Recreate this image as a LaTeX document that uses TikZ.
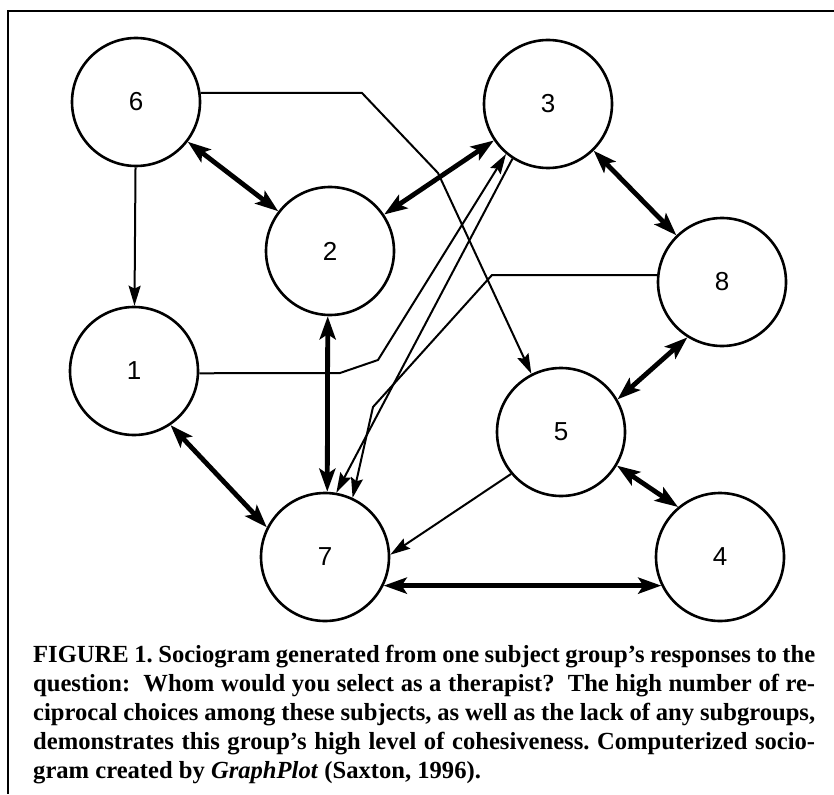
\documentclass[tikz,border=0pt]{standalone}
\usepackage{fontspec}
\setmainfont{Liberation Serif}
\newfontfamily\labelfont{Liberation Sans}
\newfontfamily\capfont{Liberation Serif}
\usetikzlibrary{arrows.meta,calc}
\tikzset{
  person/.style={circle, draw, line width=2.6pt, minimum size=128pt, inner sep=0pt, font=\labelfont\fontsize{26}{26}\selectfont},
  thin/.style={line width=2pt, -{Stealth[length=20pt,width=12pt,inset=3pt]}},
  both/.style={line width=4.8pt, {Stealth[length=23pt,width=16pt,inset=5pt]}-{Stealth[length=23pt,width=16pt,inset=5pt]}},
  frameline/.style={line width=2.8pt},
  capline/.style={anchor=base west, inner sep=0pt, font=\capfont\bfseries\fontsize{24.6}{29}\selectfont\frenchspacing}
}
\begin{document}
\begin{tikzpicture}[x=1pt,y=-1pt]
\useasboundingbox (0,0) rectangle (834,794);
% frame
\coordinate (fa) at (834,11);
\coordinate (fb) at (8,11);
\coordinate (fc) at (8,794);
\draw[frameline] (fa) -- (fb) -- (fc);
% nodes
\node[person] (n6) at (136,102) {6};
\node[person] (n3) at (548,104) {3};
\node[person] (n2) at (330,251) {2};
\node[person] (n8) at (722,282) {8};
\node[person] (n1) at (134,371) {1};
\node[person] (n5) at (561,432) {5};
\node[person] (n7) at (325,557) {7};
\node[person] (n4) at (720,557) {4};
% bend points
\coordinate (b65a) at (362,93);
\coordinate (b65b) at (438,173);
\coordinate (b13a) at (340,373);
\coordinate (b13b) at (378,360);
\coordinate (b87a) at (492,275);
\coordinate (b87b) at (373,407);
% thin (one-way) choices
\draw[thin] (n6) -- (n1);
\draw[thin] (n6.8) -- (b65a) -- (b65b) -- (n5.117);
\draw[thin] (n1.-2) -- (b13a) -- (b13b) -- (n3.230);
\draw[thin] (n8.174) -- (b87a) -- (b87b) -- (n7.65);
\draw[thin] (n3.237) -- (n7.80);
\draw[thin] (n5.220) -- (n7.2);
% reciprocal choices
\draw[both] (n6) -- (n2);
\draw[both] (n2) -- (n3);
\draw[both] (n3) -- (n8);
\draw[both] (n8.238) -- (n5.30);
\draw[both] (n5.329) -- (n4.130);
\draw[both] (n1.-56) -- (n7.153);
\draw[both] (n2.268) -- (n7.88);
\draw[both] (n7.-26) -- (n4.206);
% caption
\node[capline] (cap1) at (33,662) {\makebox[782pt][s]{FIGURE 1. Sociogram generated from one subject group’s responses to the}};
\node[capline] (cap2) at (33,691) {\makebox[782pt][s]{question:\ \ Whom would you select as a therapist?\ \ The high number of re-}};
\node[capline] (cap3) at (33,720) {\makebox[782pt][s]{ciprocal choices among these subjects, as well as the lack of any subgroups,}};
\node[capline] (cap4) at (33,749) {\makebox[782pt][s]{demonstrates this group’s high level of cohesiveness. Computerized socio-}};
\node[capline] (cap5) at (33,778) {gram created by \textit{GraphPlot} (Saxton, 1996).};
\end{tikzpicture}
\end{document}
